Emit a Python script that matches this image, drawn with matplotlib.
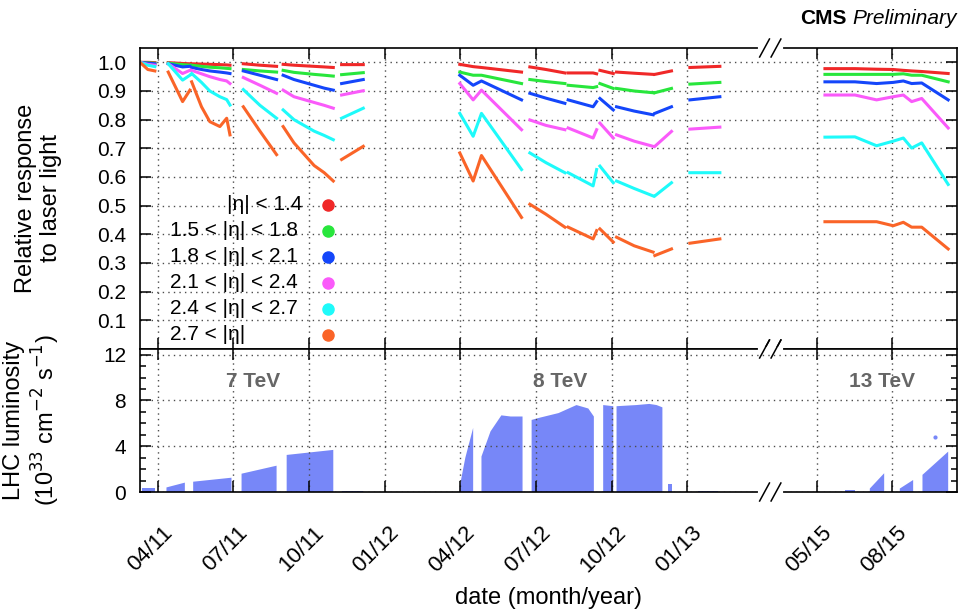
import numpy as np
import matplotlib.pyplot as plt
import matplotlib.transforms as mtransforms

plt.rcParams['font.family'] = ['Liberation Sans', 'DejaVu Sans']

nan = np.nan

# time in months since 01/2011, nan = gap between running periods
resp_month = [2.29, 2.6, 2.88, nan,
              3.41, 3.98, 4.27, nan,
              4.34, 4.73, 5.06, 5.46, 5.73, 5.86, nan,
              6.39, 7.05, 7.71, nan,
              7.97, 8.4, 9.2, 9.6, 9.96, nan,
              10.29, 11.15, nan,
              14.98, 15.51, 15.84, 17.43, nan,
              17.76, 18.4, 19.15, nan,
              19.28, 20.27, 20.41, nan,
              20.54, 21.07, nan,
              21.20, 21.9, 22.65, nan,
              22.72, 23.38, nan,
              24.11, 25.30, nan,
              52.32, 53.51, 54.37, 55.03, 55.43, 55.76, 56.16, 57.21]

eta_lt14 = [1.0, 1.0, 0.999, nan,
            0.999, 0.996, 0.995, nan,
            0.995, 0.994, 0.993, 0.992, 0.991, 0.99, nan,
            0.995, 0.99, 0.986, nan,
            0.993, 0.99, 0.986, 0.984, 0.982, nan,
            0.992, 0.992, nan,
            0.993, 0.985, 0.982, 0.966, nan,
            0.984, 0.975, 0.963, nan,
            0.963, 0.963, 0.960, nan,
            0.972, 0.961, nan,
            0.966, 0.962, 0.958, nan,
            0.958, 0.970, nan,
            0.982, 0.986, nan,
            0.978, 0.978, 0.976, 0.975, 0.972, 0.970, 0.968, 0.961]

eta_15_18 = [1.0, 0.998, 0.997, nan,
             0.997, 0.992, 0.99, nan,
             0.99, 0.986, 0.983, 0.981, 0.979, 0.978, nan,
             0.975, 0.97, 0.966, nan,
             0.972, 0.965, 0.958, 0.955, 0.952, nan,
             0.957, 0.964, nan,
             0.966, 0.955, 0.955, 0.926, nan,
             0.940, 0.933, 0.926, nan,
             0.920, 0.912, 0.915, nan,
             0.926, 0.909, nan,
             0.909, 0.90, 0.894, nan,
             0.894, 0.909, nan,
             0.924, 0.930, nan,
             0.958, 0.958, 0.958, 0.958, 0.960, 0.955, 0.955, 0.932]

eta_18_21 = [1.0, 0.997, 0.995, nan,
             0.995, 0.984, 0.986, nan,
             0.982, 0.975, 0.970, 0.966, 0.963, 0.961, nan,
             0.970, 0.955, 0.94, nan,
             0.955, 0.94, 0.92, 0.91, 0.903, nan,
             0.926, 0.940, nan,
             0.955, 0.920, 0.935, 0.869, nan,
             0.892, 0.875, 0.857, nan,
             0.869, 0.845, 0.863, nan,
             0.874, 0.834, nan,
             0.845, 0.83, 0.817, nan,
             0.822, 0.845, nan,
             0.869, 0.880, nan,
             0.932, 0.932, 0.926, 0.93, 0.935, 0.926, 0.928, 0.869]

eta_21_24 = [1.0, 0.993, 0.99, nan,
             0.995, 0.961, 0.972, nan,
             0.972, 0.96, 0.95, 0.94, 0.935, 0.926, nan,
             0.947, 0.92, 0.892, nan,
             0.903, 0.88, 0.86, 0.85, 0.84, nan,
             0.886, 0.901, nan,
             0.926, 0.869, 0.903, 0.765, nan,
             0.799, 0.78, 0.765, nan,
             0.771, 0.736, 0.765, nan,
             0.788, 0.736, nan,
             0.747, 0.725, 0.707, nan,
             0.707, 0.759, nan,
             0.767, 0.774, nan,
             0.886, 0.886, 0.869, 0.88, 0.886, 0.863, 0.874, 0.771]

eta_24_27 = [1.0, 0.99, 0.985, nan,
             0.995, 0.938, 0.955, nan,
             0.961, 0.93, 0.90, 0.88, 0.87, 0.851, nan,
             0.905, 0.85, 0.805, nan,
             0.834, 0.80, 0.76, 0.745, 0.73, nan,
             0.805, 0.84, nan,
             0.822, 0.742, 0.822, 0.626, nan,
             0.684, 0.65, 0.615, nan,
             0.615, 0.569, 0.626, nan,
             0.638, 0.580, nan,
             0.586, 0.56, 0.534, nan,
             0.534, 0.580, nan,
             0.615, 0.615, nan,
             0.739, 0.74, 0.709, 0.725, 0.736, 0.701, 0.719, 0.574]

eta_gt27 = [1.0, 0.975, 0.97, nan,
            0.966, 0.863, 0.903, nan,
            0.932, 0.845, 0.793, 0.776, 0.805, 0.747, nan,
            0.845, 0.76, 0.678, nan,
            0.776, 0.719, 0.64, 0.615, 0.586, nan,
            0.661, 0.707, nan,
            0.684, 0.586, 0.675, 0.459, nan,
            0.505, 0.47, 0.425, nan,
            0.425, 0.384, 0.413, nan,
            0.419, 0.373, nan,
            0.390, 0.36, 0.338, nan,
            0.326, 0.349, nan,
            0.369, 0.384, nan,
            0.444, 0.444, 0.444, 0.430, 0.442, 0.425, 0.425, 0.349]

series = [eta_lt14, eta_15_18, eta_18_21, eta_21_24, eta_24_27, eta_gt27]
labels = ['|η| < 1.4', '1.5 < |η| < 1.8', '1.8 < |η| < 2.1',
          '2.1 < |η| < 2.4', '2.4 < |η| < 2.7', '2.7 < |η|']
colors = ['#f02828', '#28e63c', '#1446fa', '#fa5afa', '#1efafa', '#fa6428']

# peak instantaneous luminosity per fill period (1e33 cm-2 s-1)
lumi_month = [2.35, 2.88, nan, 3.34, 4.07, nan, 4.40, 5.92, nan,
              6.32, 7.71, nan, 8.11, 9.96, nan, 10.29, 11.15, nan,
              14.98, 15.2, 15.51, nan, 15.84, 16.2, 16.63, 17.0, 17.47, nan,
              17.83, 18.16, 18.9, 19.61, 20.08, 20.3, nan,
              20.67, 21.07, nan, 21.2, 21.99, 22.5, 22.79, 23.02, nan,
              23.24, 23.4, nan, 24.43, 25.22, nan,
              53.11, 53.51, nan, 54.10, 54.67, nan, 55.29, 55.82, nan,
              56.19, 57.21]
lumi_peak = [0.35, 0.35, nan, 0.4, 0.82, nan, 0.9, 1.25, nan,
             1.6, 2.3, nan, 3.24, 3.68, nan, 0.1, 0.1, nan,
             0.5, 3.0, 5.6, nan, 3.1, 5.3, 6.7, 6.6, 6.6, nan,
             6.3, 6.5, 6.9, 7.6, 7.3, 6.6, nan,
             7.6, 7.5, nan, 7.5, 7.6, 7.7, 7.6, 7.4, nan,
             0.7, 0.7, nan, 0.1, 0.1, nan,
             0.2, 0.2, nan, 0.3, 1.64, nan, 0.3, 1.05, nan,
             1.5, 3.53]
lumi_stray_month = [56.68]
lumi_stray = [4.79]

tick_month = [3, 6, 9, 12, 15, 18, 21, 24, 52, 55]
tick_labels = ['04/11', '07/11', '10/11', '01/12', '04/12', '07/12',
               '10/12', '01/13', '05/15', '08/15']

energies = ['7 TeV', '8 TeV', '13 TeV']
energy_month = [6.77, 18.95, 54.58]

GAP = 22.85  # months cut out between 2013 and 2015


def squeeze(m):
    m = np.asarray(m, dtype=float)
    return np.where(m > 40, m - GAP, m)


xmin, xmax, xbreak = 2.29, 34.71, 27.3

fig = plt.figure(figsize=(9.59, 6.11), dpi=100)
ax1 = fig.add_axes([140/959, (611-349)/611, 817/959, 301/611])
ax2 = fig.add_axes([140/959, (611-492)/611, 817/959, 143/611], sharex=ax1)

for vals, col in zip(series, colors):
    ax1.plot(squeeze(resp_month), vals, color=col, lw=2.2)

ax2.fill_between(squeeze(lumi_month), 0, lumi_peak, color='#7787f8', lw=0)
ax2.scatter(squeeze(lumi_stray_month), lumi_stray, s=4, color='#7787f8')

for x, t in zip(squeeze(energy_month), energies):
    ax2.text(x, 9.66, t, color='#666666', fontsize=15, fontweight='bold',
             ha='center', va='center')

ax1.set_xlim(xmin, xmax)
ax1.set_ylim(0, 1.05)
ax2.set_ylim(0, 12.5)

yt = np.round(np.arange(0.1, 1.01, 0.1), 1)
ax1.set_yticks(yt)
ax1.set_yticklabels(['%.1f' % v for v in yt])
ax2.set_yticks([0, 4, 8, 12])
ax2.set_yticks(np.arange(0, 13, 1), minor=True)
ax2.set_xticks(squeeze(tick_month))
ax2.set_xticklabels(tick_labels, rotation=45, ha='right', va='top',
                    rotation_mode='anchor', fontsize=16)

for ax in (ax1, ax2):
    ax.grid(True, which='major', ls=(0, (1, 3)), color='0.3', lw=1)
    ax.tick_params(which='both', direction='in', top=True, right=True,
                   width=1.1)
    ax.tick_params(axis='y', labelsize=15)
    ax.tick_params(which='major', length=8, pad=10)
    ax.tick_params(which='minor', length=4)
    for s in ax.spines.values():
        s.set_linewidth(1.2)
ax1.tick_params(labelbottom=False)

shift = mtransforms.ScaledTranslation(0.04, -0.16, fig.dpi_scale_trans)
for lab in ax2.get_xticklabels():
    lab.set_transform(lab.get_transform() + shift)

ax1.set_ylabel('Relative response\nto laser light', fontsize=17)
ax2.set_ylabel('LHC luminosity\n(10$^{33}$ cm$^{-2}$ s$^{-1}$)', fontsize=17)
ax1.yaxis.set_label_coords(-0.095, 0.5)
ax2.yaxis.set_label_coords(-0.095, 0.5)
ax2.set_xlabel('date (month/year)', fontsize=17)
ax2.xaxis.set_label_coords(0.5, -0.74)
ax2.xaxis.label.set_va('center')

# legend, laid out like the original: text left aligned, first row flush right
for i, (lab, col) in enumerate(zip(labels, colors)):
    yrow = (349 - (205 + 26 * i)) / 301
    if i == 0:
        ax1.text(0.199, yrow, lab, transform=ax1.transAxes, fontsize=15,
                 ha='right', va='center')
    else:
        ax1.text(0.037, yrow, lab, transform=ax1.transAxes, fontsize=15,
                 ha='left', va='center')
    ax1.plot([0.230], [yrow], ls='none', marker='o', ms=8, color=col,
             transform=ax1.transAxes)

# axis break marks
xb = (xbreak - xmin) / (xmax - xmin)
for ax, ys, hpx in ((ax1, (1.0, 0.0), 301), (ax2, (0.0, 1.0), 143)):
    dy = 9 / hpx
    for y in ys:
        ax.plot([xb - 0.013, xb + 0.013], [y, y], color='white', lw=3,
                transform=ax.transAxes, clip_on=False, zorder=5)
        for off in (-0.007, 0.007):
            ax.plot([xb + off - 0.006, xb + off + 0.006], [y - dy, y + dy],
                    color='black', lw=1.1, transform=ax.transAxes,
                    clip_on=False, zorder=6)

t = ax1.text(1.0, 1.079, 'Preliminary', transform=ax1.transAxes, ha='right',
             va='baseline', fontsize=15, style='italic')
ax1.annotate('CMS', xy=(0, 0), xycoords=t, xytext=(-4, 0),
             textcoords='offset points', ha='right', va='bottom',
             fontsize=15, fontweight='bold')

fig.savefig('out.png', dpi=100)
